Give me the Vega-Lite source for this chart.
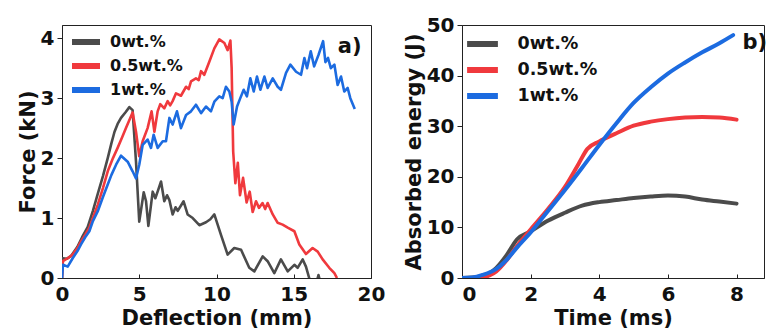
{
  "$schema": "https://vega.github.io/schema/vega-lite/v6.json",
  "padding": {"left": 16, "top": 14, "right": 0, "bottom": 0},
  "config": {
    "font": "DejaVu Sans",
    "view": {"stroke": "#222", "strokeWidth": 1},
    "axis": {
      "grid": false, "domainColor": "#222", "tickColor": "#222",
      "labelFont": "DejaVu Sans", "labelFontWeight": "bold", "labelFontSize": 20, "labelColor": "#111",
      "titleFont": "DejaVu Sans", "titleFontWeight": "bold", "titleFontSize": 21, "titleColor": "#111"
    },
    "legend": {"labelFont": "DejaVu Sans", "labelFontWeight": "bold", "labelColor": "#111"}
  },
  "spacing": 16,
  "resolve": {"legend": {"color": "independent"}},
  "datasets": {
    "force": [
      {"series": "0wt.%", "x": 0, "y": 0},
      {"series": "0wt.%", "x": 0.05, "y": 0.33},
      {"series": "0wt.%", "x": 0.3, "y": 0.32},
      {"series": "0wt.%", "x": 0.6, "y": 0.37},
      {"series": "0wt.%", "x": 1.0, "y": 0.52},
      {"series": "0wt.%", "x": 1.3, "y": 0.68},
      {"series": "0wt.%", "x": 1.66, "y": 0.85},
      {"series": "0wt.%", "x": 2.0, "y": 1.12},
      {"series": "0wt.%", "x": 2.3, "y": 1.39},
      {"series": "0wt.%", "x": 2.65, "y": 1.7},
      {"series": "0wt.%", "x": 2.96, "y": 2.0},
      {"series": "0wt.%", "x": 3.2, "y": 2.25},
      {"series": "0wt.%", "x": 3.4, "y": 2.44},
      {"series": "0wt.%", "x": 3.6, "y": 2.57},
      {"series": "0wt.%", "x": 3.82, "y": 2.67},
      {"series": "0wt.%", "x": 4.1, "y": 2.76},
      {"series": "0wt.%", "x": 4.36, "y": 2.85},
      {"series": "0wt.%", "x": 4.57, "y": 2.8},
      {"series": "0wt.%", "x": 4.79, "y": 1.94},
      {"series": "0wt.%", "x": 5.0, "y": 0.94},
      {"series": "0wt.%", "x": 5.29, "y": 1.43},
      {"series": "0wt.%", "x": 5.44, "y": 1.28},
      {"series": "0wt.%", "x": 5.59, "y": 0.87},
      {"series": "0wt.%", "x": 5.87, "y": 1.44},
      {"series": "0wt.%", "x": 6.04, "y": 1.33},
      {"series": "0wt.%", "x": 6.2, "y": 1.45},
      {"series": "0wt.%", "x": 6.41, "y": 1.61},
      {"series": "0wt.%", "x": 6.62, "y": 1.28},
      {"series": "0wt.%", "x": 6.8, "y": 1.38},
      {"series": "0wt.%", "x": 6.95, "y": 1.3},
      {"series": "0wt.%", "x": 7.16, "y": 1.06},
      {"series": "0wt.%", "x": 7.35, "y": 1.18},
      {"series": "0wt.%", "x": 7.49, "y": 1.12},
      {"series": "0wt.%", "x": 7.87, "y": 1.28},
      {"series": "0wt.%", "x": 8.13, "y": 1.06},
      {"series": "0wt.%", "x": 8.46, "y": 1.0},
      {"series": "0wt.%", "x": 8.89, "y": 0.88},
      {"series": "0wt.%", "x": 9.32, "y": 0.93},
      {"series": "0wt.%", "x": 9.6, "y": 0.98},
      {"series": "0wt.%", "x": 9.86, "y": 1.06},
      {"series": "0wt.%", "x": 10.29, "y": 0.72},
      {"series": "0wt.%", "x": 10.72, "y": 0.39},
      {"series": "0wt.%", "x": 11.15, "y": 0.5},
      {"series": "0wt.%", "x": 11.59, "y": 0.47},
      {"series": "0wt.%", "x": 12.12, "y": 0.17},
      {"series": "0wt.%", "x": 12.45, "y": 0.11},
      {"series": "0wt.%", "x": 12.99, "y": 0.36},
      {"series": "0wt.%", "x": 13.31, "y": 0.28},
      {"series": "0wt.%", "x": 13.74, "y": 0.08},
      {"series": "0wt.%", "x": 14.17, "y": 0.31},
      {"series": "0wt.%", "x": 14.61, "y": 0.11},
      {"series": "0wt.%", "x": 15.04, "y": 0.22},
      {"series": "0wt.%", "x": 15.25, "y": 0.17},
      {"series": "0wt.%", "x": 15.58, "y": 0.31},
      {"series": "0wt.%", "x": 15.79, "y": 0.19},
      {"series": "0wt.%", "x": 16.0, "y": 0},
      {"series": "0wt.%", "x": 16.1, "y": -0.2},
      {"series": "0wt.%", "x": 16.45, "y": -0.1},
      {"series": "0wt.%", "x": 16.6, "y": 0.05},
      {"series": "0wt.%", "x": 16.8, "y": -0.15},
      {"series": "0.5wt.%", "x": 0, "y": 0},
      {"series": "0.5wt.%", "x": 0.06, "y": 0.28},
      {"series": "0.5wt.%", "x": 0.37, "y": 0.33},
      {"series": "0.5wt.%", "x": 0.69, "y": 0.39},
      {"series": "0.5wt.%", "x": 1.0, "y": 0.5},
      {"series": "0.5wt.%", "x": 1.23, "y": 0.61},
      {"series": "0.5wt.%", "x": 1.5, "y": 0.72},
      {"series": "0.5wt.%", "x": 1.77, "y": 0.84},
      {"series": "0.5wt.%", "x": 2.0, "y": 1.0},
      {"series": "0.5wt.%", "x": 2.31, "y": 1.22},
      {"series": "0.5wt.%", "x": 2.65, "y": 1.5},
      {"series": "0.5wt.%", "x": 2.96, "y": 1.78},
      {"series": "0.5wt.%", "x": 3.3, "y": 2.0},
      {"series": "0.5wt.%", "x": 3.6, "y": 2.17},
      {"series": "0.5wt.%", "x": 3.9, "y": 2.35},
      {"series": "0.5wt.%", "x": 4.14, "y": 2.5},
      {"series": "0.5wt.%", "x": 4.57, "y": 2.76},
      {"series": "0.5wt.%", "x": 4.79, "y": 2.44},
      {"series": "0.5wt.%", "x": 5.0, "y": 2.03},
      {"series": "0.5wt.%", "x": 5.22, "y": 2.28},
      {"series": "0.5wt.%", "x": 5.54, "y": 2.5},
      {"series": "0.5wt.%", "x": 5.8, "y": 2.78},
      {"series": "0.5wt.%", "x": 5.98, "y": 2.44},
      {"series": "0.5wt.%", "x": 6.19, "y": 2.78},
      {"series": "0.5wt.%", "x": 6.36, "y": 2.9},
      {"series": "0.5wt.%", "x": 6.62, "y": 2.83},
      {"series": "0.5wt.%", "x": 6.84, "y": 2.95},
      {"series": "0.5wt.%", "x": 7.0, "y": 2.88},
      {"series": "0.5wt.%", "x": 7.16, "y": 2.95},
      {"series": "0.5wt.%", "x": 7.38, "y": 3.08},
      {"series": "0.5wt.%", "x": 7.7, "y": 3.04},
      {"series": "0.5wt.%", "x": 8.03, "y": 3.19},
      {"series": "0.5wt.%", "x": 8.2, "y": 3.15},
      {"series": "0.5wt.%", "x": 8.35, "y": 3.28},
      {"series": "0.5wt.%", "x": 8.67, "y": 3.33},
      {"series": "0.5wt.%", "x": 8.85, "y": 3.3},
      {"series": "0.5wt.%", "x": 9.0, "y": 3.45},
      {"series": "0.5wt.%", "x": 9.21, "y": 3.39},
      {"series": "0.5wt.%", "x": 9.54, "y": 3.61},
      {"series": "0.5wt.%", "x": 9.86, "y": 3.83},
      {"series": "0.5wt.%", "x": 10.18, "y": 3.98},
      {"series": "0.5wt.%", "x": 10.51, "y": 3.92},
      {"series": "0.5wt.%", "x": 10.72, "y": 3.8},
      {"series": "0.5wt.%", "x": 10.9, "y": 3.96},
      {"series": "0.5wt.%", "x": 10.98, "y": 3.5},
      {"series": "0.5wt.%", "x": 11.08, "y": 2.11},
      {"series": "0.5wt.%", "x": 11.22, "y": 1.58},
      {"series": "0.5wt.%", "x": 11.38, "y": 1.92},
      {"series": "0.5wt.%", "x": 11.52, "y": 1.38},
      {"series": "0.5wt.%", "x": 11.72, "y": 1.67},
      {"series": "0.5wt.%", "x": 11.95, "y": 1.26},
      {"series": "0.5wt.%", "x": 12.15, "y": 1.44},
      {"series": "0.5wt.%", "x": 12.34, "y": 1.1},
      {"series": "0.5wt.%", "x": 12.56, "y": 1.28},
      {"series": "0.5wt.%", "x": 12.75, "y": 1.17},
      {"series": "0.5wt.%", "x": 12.98, "y": 1.25},
      {"series": "0.5wt.%", "x": 13.15, "y": 1.15},
      {"series": "0.5wt.%", "x": 13.31, "y": 1.25},
      {"series": "0.5wt.%", "x": 13.64, "y": 1.06},
      {"series": "0.5wt.%", "x": 13.96, "y": 0.92},
      {"series": "0.5wt.%", "x": 14.28, "y": 0.89},
      {"series": "0.5wt.%", "x": 14.61, "y": 0.84},
      {"series": "0.5wt.%", "x": 15.04, "y": 0.78},
      {"series": "0.5wt.%", "x": 15.36, "y": 0.56},
      {"series": "0.5wt.%", "x": 15.79, "y": 0.4},
      {"series": "0.5wt.%", "x": 16.22, "y": 0.5},
      {"series": "0.5wt.%", "x": 16.55, "y": 0.44},
      {"series": "0.5wt.%", "x": 16.87, "y": 0.31},
      {"series": "0.5wt.%", "x": 17.3, "y": 0.17},
      {"series": "0.5wt.%", "x": 17.63, "y": 0.08},
      {"series": "0.5wt.%", "x": 17.8, "y": 0},
      {"series": "1wt.%", "x": 0, "y": 0},
      {"series": "1wt.%", "x": 0.06, "y": 0.22},
      {"series": "1wt.%", "x": 0.37, "y": 0.19},
      {"series": "1wt.%", "x": 0.69, "y": 0.33},
      {"series": "1wt.%", "x": 1.0, "y": 0.45},
      {"series": "1wt.%", "x": 1.23, "y": 0.56},
      {"series": "1wt.%", "x": 1.5, "y": 0.68},
      {"series": "1wt.%", "x": 1.77, "y": 0.78},
      {"series": "1wt.%", "x": 2.0, "y": 0.95},
      {"series": "1wt.%", "x": 2.31, "y": 1.11},
      {"series": "1wt.%", "x": 2.65, "y": 1.35},
      {"series": "1wt.%", "x": 2.96, "y": 1.56},
      {"series": "1wt.%", "x": 3.2, "y": 1.72},
      {"series": "1wt.%", "x": 3.5, "y": 1.89},
      {"series": "1wt.%", "x": 3.82, "y": 2.04},
      {"series": "1wt.%", "x": 4.25, "y": 1.94},
      {"series": "1wt.%", "x": 4.57, "y": 1.78},
      {"series": "1wt.%", "x": 4.79, "y": 1.66},
      {"series": "1wt.%", "x": 5.0, "y": 1.89},
      {"series": "1wt.%", "x": 5.22, "y": 2.22},
      {"series": "1wt.%", "x": 5.54, "y": 2.31},
      {"series": "1wt.%", "x": 5.76, "y": 2.17},
      {"series": "1wt.%", "x": 5.93, "y": 2.39},
      {"series": "1wt.%", "x": 6.19, "y": 2.17},
      {"series": "1wt.%", "x": 6.52, "y": 2.28},
      {"series": "1wt.%", "x": 6.73, "y": 2.28},
      {"series": "1wt.%", "x": 6.95, "y": 2.67},
      {"series": "1wt.%", "x": 7.16, "y": 2.56},
      {"series": "1wt.%", "x": 7.44, "y": 2.78},
      {"series": "1wt.%", "x": 7.7, "y": 2.5},
      {"series": "1wt.%", "x": 8.03, "y": 2.72},
      {"series": "1wt.%", "x": 8.35, "y": 2.78},
      {"series": "1wt.%", "x": 8.67, "y": 2.89},
      {"series": "1wt.%", "x": 9.0, "y": 2.75},
      {"series": "1wt.%", "x": 9.32, "y": 2.86},
      {"series": "1wt.%", "x": 9.64, "y": 2.78},
      {"series": "1wt.%", "x": 9.86, "y": 2.94},
      {"series": "1wt.%", "x": 10.18, "y": 3.03},
      {"series": "1wt.%", "x": 10.4, "y": 3.0},
      {"series": "1wt.%", "x": 10.61, "y": 3.19},
      {"series": "1wt.%", "x": 10.83, "y": 3.11},
      {"series": "1wt.%", "x": 10.98, "y": 2.94},
      {"series": "1wt.%", "x": 11.11, "y": 2.56},
      {"series": "1wt.%", "x": 11.33, "y": 2.86},
      {"series": "1wt.%", "x": 11.54, "y": 3.0},
      {"series": "1wt.%", "x": 11.76, "y": 3.14},
      {"series": "1wt.%", "x": 11.97, "y": 3.03},
      {"series": "1wt.%", "x": 12.19, "y": 3.33},
      {"series": "1wt.%", "x": 12.41, "y": 3.11},
      {"series": "1wt.%", "x": 12.62, "y": 3.36},
      {"series": "1wt.%", "x": 12.84, "y": 3.14},
      {"series": "1wt.%", "x": 13.1, "y": 3.36},
      {"series": "1wt.%", "x": 13.31, "y": 3.17},
      {"series": "1wt.%", "x": 13.64, "y": 3.33},
      {"series": "1wt.%", "x": 13.96, "y": 3.19},
      {"series": "1wt.%", "x": 14.17, "y": 3.14},
      {"series": "1wt.%", "x": 14.5, "y": 3.42},
      {"series": "1wt.%", "x": 14.78, "y": 3.56},
      {"series": "1wt.%", "x": 15.15, "y": 3.44},
      {"series": "1wt.%", "x": 15.47, "y": 3.39},
      {"series": "1wt.%", "x": 15.69, "y": 3.67},
      {"series": "1wt.%", "x": 15.86, "y": 3.5},
      {"series": "1wt.%", "x": 16.1, "y": 3.78},
      {"series": "1wt.%", "x": 16.32, "y": 3.53},
      {"series": "1wt.%", "x": 16.6, "y": 3.72},
      {"series": "1wt.%", "x": 16.9, "y": 3.95},
      {"series": "1wt.%", "x": 17.05, "y": 3.6},
      {"series": "1wt.%", "x": 17.22, "y": 3.67},
      {"series": "1wt.%", "x": 17.4, "y": 3.5},
      {"series": "1wt.%", "x": 17.63, "y": 3.56},
      {"series": "1wt.%", "x": 17.84, "y": 3.22},
      {"series": "1wt.%", "x": 18.06, "y": 3.36},
      {"series": "1wt.%", "x": 18.27, "y": 3.11},
      {"series": "1wt.%", "x": 18.49, "y": 3.17},
      {"series": "1wt.%", "x": 18.66, "y": 3.0},
      {"series": "1wt.%", "x": 18.95, "y": 2.82}
    ],
    "energy": [
      {"series": "0wt.%", "t": 0, "e": 0},
      {"series": "0wt.%", "t": 0.5, "e": 0.2},
      {"series": "0wt.%", "t": 1.0, "e": 2.0},
      {"series": "0wt.%", "t": 1.3, "e": 4.5},
      {"series": "0wt.%", "t": 1.6, "e": 7.6},
      {"series": "0wt.%", "t": 2.0, "e": 9.2},
      {"series": "0wt.%", "t": 2.5, "e": 11.3},
      {"series": "0wt.%", "t": 3.0, "e": 12.9},
      {"series": "0wt.%", "t": 3.5, "e": 14.3},
      {"series": "0wt.%", "t": 4.0, "e": 15.0},
      {"series": "0wt.%", "t": 4.5, "e": 15.4},
      {"series": "0wt.%", "t": 5.0, "e": 15.8},
      {"series": "0wt.%", "t": 5.5, "e": 16.1},
      {"series": "0wt.%", "t": 6.0, "e": 16.3},
      {"series": "0wt.%", "t": 6.5, "e": 16.1},
      {"series": "0wt.%", "t": 7.0, "e": 15.5},
      {"series": "0wt.%", "t": 7.5, "e": 15.1},
      {"series": "0wt.%", "t": 8.0, "e": 14.7},
      {"series": "0.5wt.%", "t": 0, "e": 0},
      {"series": "0.5wt.%", "t": 0.5, "e": 0.05},
      {"series": "0.5wt.%", "t": 0.8, "e": 0.5},
      {"series": "0.5wt.%", "t": 1.0, "e": 1.3},
      {"series": "0.5wt.%", "t": 1.3, "e": 3.5},
      {"series": "0.5wt.%", "t": 1.6, "e": 6.3},
      {"series": "0.5wt.%", "t": 2.0, "e": 9.6},
      {"series": "0.5wt.%", "t": 2.5, "e": 13.6},
      {"series": "0.5wt.%", "t": 3.0, "e": 18.0},
      {"series": "0.5wt.%", "t": 3.4, "e": 22.6},
      {"series": "0.5wt.%", "t": 3.65, "e": 25.5},
      {"series": "0.5wt.%", "t": 4.0, "e": 27.0},
      {"series": "0.5wt.%", "t": 4.5, "e": 28.6},
      {"series": "0.5wt.%", "t": 5.0, "e": 30.1},
      {"series": "0.5wt.%", "t": 5.5, "e": 30.9},
      {"series": "0.5wt.%", "t": 6.0, "e": 31.4},
      {"series": "0.5wt.%", "t": 6.5, "e": 31.7},
      {"series": "0.5wt.%", "t": 7.0, "e": 31.8},
      {"series": "0.5wt.%", "t": 7.5, "e": 31.7},
      {"series": "0.5wt.%", "t": 8.0, "e": 31.3},
      {"series": "1wt.%", "t": 0, "e": 0},
      {"series": "1wt.%", "t": 0.3, "e": 0.1},
      {"series": "1wt.%", "t": 0.6, "e": 0.6},
      {"series": "1wt.%", "t": 1.0, "e": 1.8},
      {"series": "1wt.%", "t": 1.3, "e": 3.6},
      {"series": "1wt.%", "t": 1.6, "e": 6.0},
      {"series": "1wt.%", "t": 2.0, "e": 9.0},
      {"series": "1wt.%", "t": 2.5, "e": 13.2},
      {"series": "1wt.%", "t": 3.0, "e": 17.4},
      {"series": "1wt.%", "t": 3.5, "e": 21.8},
      {"series": "1wt.%", "t": 4.0, "e": 26.3},
      {"series": "1wt.%", "t": 4.5, "e": 30.6},
      {"series": "1wt.%", "t": 5.0, "e": 34.6},
      {"series": "1wt.%", "t": 5.5, "e": 37.7},
      {"series": "1wt.%", "t": 6.0, "e": 40.4},
      {"series": "1wt.%", "t": 6.5, "e": 42.6},
      {"series": "1wt.%", "t": 7.0, "e": 44.6},
      {"series": "1wt.%", "t": 7.5, "e": 46.4},
      {"series": "1wt.%", "t": 7.9, "e": 48.0}
    ]
  },
  "hconcat": [
    {
      "width": 309,
      "height": 253,
      "layer": [
        {
          "data": {"name": "force"},
          "mark": {"type": "line", "strokeWidth": 2.6, "clip": true, "strokeJoin": "round"},
          "encoding": {
            "x": {"field": "x", "type": "quantitative", "scale": {"domain": [0, 20], "nice": false},
              "title": "Deflection (mm)",
              "axis": {"values": [0, 2.5, 5, 7.5, 10, 12.5, 15, 17.5, 20], "labelExpr": "datum.value % 5 === 0 ? format(datum.value, 'd') : ''", "tickSize": -4, "labelPadding": 10, "titlePadding": 3, "labelFlush": false, "labelOverlap": false}},
            "y": {"field": "y", "type": "quantitative", "scale": {"domain": [0, 4.22], "nice": false},
              "title": "Force (kN)",
              "axis": {"values": [0, 0.5, 1, 1.5, 2, 2.5, 3, 3.5, 4], "labelExpr": "datum.value % 1 === 0 ? format(datum.value, 'd') : ''", "tickSize": {"condition": {"test": "datum.value % 1 !== 0", "value": 3}, "value": 5}, "labelPadding": 3, "titlePadding": 2, "labelOverlap": false, "labelFlush": false}},
            "color": {"field": "series", "type": "nominal",
              "scale": {"domain": ["0wt.%", "0.5wt.%", "1wt.%"], "range": ["#4b4b4b", "#f0393d", "#1c6be0"]},
              "legend": {"title": null, "orient": "none", "legendX": 12, "legendY": 5, "symbolType": "M-1.6,0L1.6,0", "symbolStrokeWidth": 6, "symbolSize": 306, "labelFontSize": 16, "labelOffset": 12, "rowPadding": 0}},
            "order": {"field": "x", "type": "quantitative"}
          }
        },
        {
          "data": {"values": [{"x": 17.85, "y": 3.86, "label": "a)"}]},
          "mark": {"type": "text", "align": "left", "baseline": "middle", "font": "DejaVu Sans", "fontWeight": "bold", "fontSize": 21, "color": "#111"},
          "encoding": {
            "x": {"field": "x", "type": "quantitative"},
            "y": {"field": "y", "type": "quantitative"},
            "text": {"field": "label"}
          }
        }
      ]
    },
    {
      "width": 302,
      "height": 253,
      "layer": [
        {
          "data": {"name": "energy"},
          "mark": {"type": "line", "strokeWidth": 4, "clip": true, "strokeCap": "round", "interpolate": "monotone"},
          "encoding": {
            "x": {"field": "t", "type": "quantitative", "scale": {"domain": [0, 8.8], "nice": false},
              "title": "Time (ms)",
              "axis": {"values": [0, 1, 2, 3, 4, 5, 6, 7, 8], "labelExpr": "datum.value % 2 === 0 ? datum.label : ''", "tickSize": -4, "labelPadding": 10, "titlePadding": 3, "labelOverlap": false}},
            "y": {"field": "e", "type": "quantitative", "scale": {"domain": [0, 50], "nice": false},
              "title": "Absorbed energy (J)",
              "axis": {"values": [0, 5, 10, 15, 20, 25, 30, 35, 40, 45, 50], "labelExpr": "datum.value % 10 === 0 ? datum.label : ''", "tickSize": {"condition": {"test": "datum.value % 10 !== 0", "value": 3}, "value": 5}, "labelPadding": 3, "titlePadding": 2, "labelOverlap": false, "labelFlush": false}},
            "color": {"field": "series", "type": "nominal",
              "scale": {"domain": ["0wt.%", "0.5wt.%", "1wt.%"], "range": ["#4b4b4b", "#f0393d", "#1c6be0"]},
              "legend": {"title": null, "orient": "none", "legendX": 6.5, "legendY": 5, "symbolType": "M-1.4,0L1.4,0", "symbolStrokeWidth": 6, "symbolSize": 484, "labelFontSize": 17.5, "labelOffset": 21, "rowPadding": 0}},
            "order": {"field": "t", "type": "quantitative"}
          }
        },
        {
          "data": {"values": [{"t": 8.17, "e": 46.4, "label": "b)"}]},
          "mark": {"type": "text", "align": "left", "baseline": "middle", "font": "DejaVu Sans", "fontWeight": "bold", "fontSize": 21, "color": "#111"},
          "encoding": {
            "x": {"field": "t", "type": "quantitative"},
            "y": {"field": "e", "type": "quantitative"},
            "text": {"field": "label"}
          }
        }
      ]
    }
  ]
}
